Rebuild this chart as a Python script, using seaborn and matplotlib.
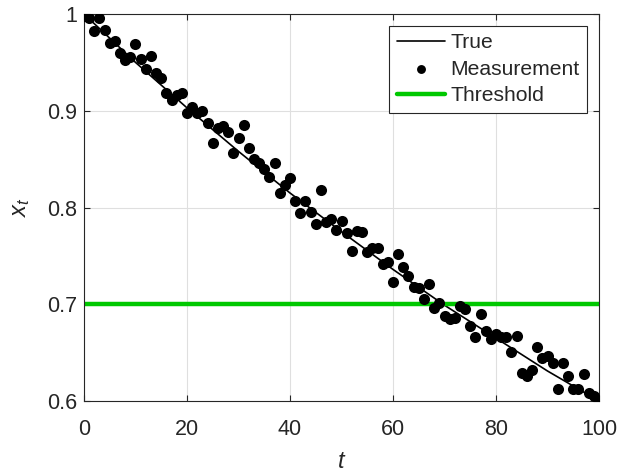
import numpy as np
import pandas as pd
import matplotlib
matplotlib.use("Agg")
import matplotlib.pyplot as plt
import seaborn as sns

t = list(range(0, 101))
measurement = [
    0.998, 0.996, 0.982, 0.996, 0.983, 0.970, 0.972, 0.960, 0.952, 0.956,
    0.969, 0.953, 0.943, 0.957, 0.939, 0.934, 0.918, 0.911, 0.916, 0.918,
    0.898, 0.904, 0.898, 0.900, 0.887, 0.867, 0.882, 0.884, 0.878, 0.856,
    0.872, 0.885, 0.861, 0.850, 0.846, 0.840, 0.832, 0.846, 0.815, 0.823,
    0.830, 0.807, 0.794, 0.807, 0.795, 0.783, 0.818, 0.785, 0.788, 0.777,
    0.786, 0.774, 0.755, 0.776, 0.775, 0.754, 0.758, 0.758, 0.742, 0.744,
    0.723, 0.752, 0.738, 0.729, 0.718, 0.717, 0.705, 0.721, 0.696, 0.701,
    0.688, 0.685, 0.686, 0.698, 0.695, 0.678, 0.666, 0.690, 0.672, 0.664,
    0.669, 0.666, 0.666, 0.651, 0.667, 0.629, 0.626, 0.632, 0.656, 0.644,
    0.647, 0.639, 0.612, 0.639, 0.626, 0.612, 0.612, 0.628, 0.608, 0.605,
    0.599,
]
# true trajectory at every 10 steps
true_t = [0, 10, 20, 30, 40, 50, 60, 70, 80, 90, 100]
true_x = [1.000, 0.950, 0.903, 0.858, 0.815, 0.775, 0.736, 0.699, 0.665, 0.631, 0.600]
threshold = 0.7

sns.set_theme(style="white")
plt.rcParams['font.family'] = ['Liberation Sans', 'DejaVu Sans']
plt.rcParams['mathtext.fontset'] = 'custom'
plt.rcParams['mathtext.it'] = 'Liberation Sans:italic'
plt.rcParams['mathtext.rm'] = 'Liberation Sans'

fig = plt.figure(figsize=(6.19, 4.75), dpi=100)
ax = fig.add_axes([0.1357, 0.1558, 0.8320, 0.8147])

sns.lineplot(x=true_t, y=true_x, ax=ax, color='black', linewidth=1.2, label='True')
sns.scatterplot(x=t, y=measurement, ax=ax, color='black', s=64, edgecolor='black',
                linewidth=0, label='Measurement', zorder=3)
ax.axhline(threshold, color='#00C800', linewidth=3.2, label='Threshold', zorder=2)

ax.set_xlim(0, 100)
ax.set_ylim(0.6, 1.0)
ax.set_xticks([0, 20, 40, 60, 80, 100])
ax.set_yticks([0.6, 0.7, 0.8, 0.9, 1.0])
ax.set_yticklabels(['0.6', '0.7', '0.8', '0.9', '1'])
ax.grid(True, color='#DFDFDF', linewidth=0.8)
ax.set_axisbelow(True)
for s in ax.spines.values():
    s.set_color('#262626')
    s.set_linewidth(0.8)
ax.tick_params(direction='in', length=4, width=0.8, color='#262626',
               labelsize=15.5, labelcolor='#262626', top=True, right=True,
               bottom=True, left=True)
ax.tick_params(axis='x', pad=13)
ax.tick_params(axis='y', pad=5)
ax.set_xlabel('$t$', fontsize=17, color='#262626', labelpad=8)
ax.set_ylabel('$x_t$', fontsize=17, color='#262626', labelpad=11)

leg = ax.legend(loc='upper right', fontsize=15.2, frameon=True, fancybox=False,
                edgecolor='#262626', framealpha=1, borderpad=0.36,
                handlelength=2.3, handletextpad=0.25, labelspacing=0.36,
                borderaxespad=0.55, markerscale=0.8)
leg.get_frame().set_linewidth(0.8)

fig.savefig('out.png', dpi=100)
